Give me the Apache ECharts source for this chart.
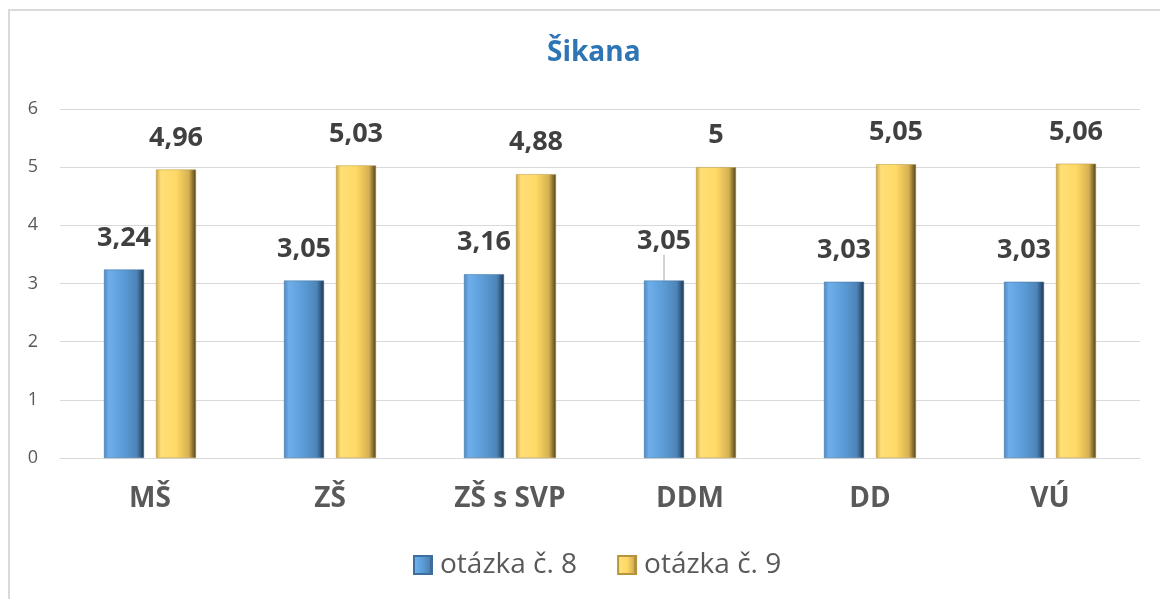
<!DOCTYPE html>
<html>
<head>
<meta charset="utf-8">
<script src="https://cdn.jsdelivr.net/npm/echarts@6/dist/echarts.min.js"></script>
<style>
  html, body { margin: 0; padding: 0; background: #fff; }
  #chart { width: 1160px; height: 599px; }
</style>
</head>
<body>
<div id="chart"></div>
<script>
const categories = ['MŠ', 'ZŠ', 'ZŠ s SVP', 'DDM', 'DD', 'VÚ'];
const otazka8 = [3.24, 3.05, 3.16, 3.05, 3.03, 3.03];
const otazka9 = [4.96, 5.03, 4.88, 5, 5.05, 5.06];
const seriesNames = ['otázka č. 8', 'otázka č. 9'];
// popisek, který je v originále posunutý s vodicí čarou (DDM, otázka 8)
const movedLabelIndex = 3;

const font = '"Open Sans", "Liberation Sans", sans-serif';

// vodorovný gradient pro efekt zkosení sloupce
const blueFill = new echarts.graphic.LinearGradient(0, 0, 1, 0, [
  { offset: 0, color: '#4f88c0' },
  { offset: 0.12, color: '#6eaeea' },
  { offset: 0.5, color: '#5b9bd5' },
  { offset: 0.82, color: '#4d84b8' },
  { offset: 1, color: '#1e3650' }
]);
const goldFill = new echarts.graphic.LinearGradient(0, 0, 1, 0, [
  { offset: 0, color: '#c9a444' },
  { offset: 0.12, color: '#ffdf78' },
  { offset: 0.5, color: '#ffd966' },
  { offset: 0.82, color: '#d6b152' },
  { offset: 1, color: '#4f4118' }
]);

const labelFmt = p => String(p.value).replace('.', ',');

const labelStyle = {
  show: true, position: 'top', distance: 18, formatter: labelFmt,
  color: '#404040', fontSize: 27, fontWeight: 'bold', fontFamily: font
};

const chart = echarts.init(document.getElementById('chart'));

const option = {
  animation: false,
  title: {
    text: 'Šikana',
    left: 542,
    top: 34,
    textStyle: { color: '#2e75b6', fontSize: 28, fontWeight: 'bold', fontFamily: font }
  },
  graphic: [{
    type: 'rect',
    shape: { x: 9, y: 10, width: 1200, height: 700 },
    style: { fill: 'none', stroke: '#d9d9d9', lineWidth: 2 },
    silent: true
  }],
  legend: {
    bottom: 15,
    left: 408,
    itemWidth: 18,
    itemHeight: 18,
    itemGap: 40,
    textStyle: { color: '#595959', fontSize: 28, fontFamily: font, padding: [0, 0, 0, 3] },
    data: [
      { name: seriesNames[0], icon: 'rect', itemStyle: { color: blueFill } },
      { name: seriesNames[1], icon: 'rect', itemStyle: { color: goldFill } }
    ]
  },
  grid: { left: 60, right: 20, top: 109, bottom: 141 },
  xAxis: {
    type: 'category',
    data: categories,
    axisLine: { lineStyle: { color: '#d9d9d9', width: 1 } },
    axisTick: { show: false },
    axisLabel: { color: '#595959', fontSize: 28, fontWeight: 'bold', fontFamily: font, margin: 27 }
  },
  yAxis: {
    type: 'value',
    min: 0,
    max: 6,
    interval: 1,
    axisLine: { show: false },
    axisTick: { show: false },
    splitLine: { lineStyle: { color: '#d9d9d9' } },
    axisLabel: { color: '#595959', fontSize: 18, fontFamily: font, margin: 22 }
  },
  series: [
    {
      name: seriesNames[0],
      type: 'bar',
      data: otazka8.map((v, i) => i === movedLabelIndex
        ? { value: v, labelLine: { show: true, lineStyle: { color: '#a6a6a6', width: 1 } } }
        : v),
      barWidth: 40,
      barGap: '30%',
      itemStyle: { color: blueFill, borderColor: '#3d6f9e', borderWidth: 0.5 },
      label: Object.assign({}, labelStyle, { offset: [-9, 0] }),
      labelLine: { show: false },
      labelLayout: p => (p.dataIndex === movedLabelIndex ? { dy: -8 } : {})
    },
    {
      name: seriesNames[1],
      type: 'bar',
      data: otazka9,
      barWidth: 40,
      itemStyle: { color: goldFill, borderColor: '#b8953a', borderWidth: 0.5 },
      label: labelStyle
    }
  ]
};

chart.setOption(option);
</script>
</body>
</html>
